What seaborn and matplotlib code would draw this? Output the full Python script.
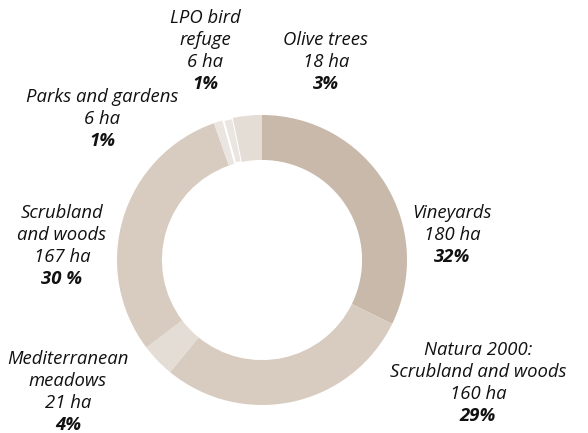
import matplotlib.pyplot as plt
import seaborn as sns

# land use data (ha)
labels = ["Vineyards", "Natura 2000:\nScrubland and woods", "Mediterranean\nmeadows",
          "Scrubland\nand woods", "Parks and gardens", "LPO bird\nrefuge", "Olive trees"]
hectares = [180, 160, 21, 167, 6, 6, 18]
percents = ["32%", "29%", "4%", "30 %", "1%", "1%", "3%"]
colors = ["#C9B9AB", "#D8CCC0", "#E4DDD6", "#D8CCC0", "#EAE5E0", "#EAE5E0", "#E4DDD6"]

# label centre positions in pixels (x, y of first line from top)
label_pos = [(452, 213), (478, 350), (68, 359), (62, 213), (102, 97), (205, 18), (326, 40)]

sns.set_theme(style="white")
plt.rcParams['font.family'] = ['Open Sans', 'DejaVu Sans']

W, H = 588, 433
fig = plt.figure(figsize=(W / 100, H / 100), dpi=100)
cx, cy, r = 262, 260, 145
ax = fig.add_axes([(cx - r) / W, (H - cy - r) / H, 2 * r / W, 2 * r / H])
wedges, _ = ax.pie(hectares, colors=colors, startangle=90, counterclock=False, radius=1,
                   wedgeprops=dict(width=0.31, edgecolor="white", linewidth=0))
# thin white gaps around the LPO refuge slice only
wedges[5].set_linewidth(1.5)
ax.set_xlim(-1, 1)
ax.set_ylim(-1, 1)
ax.set_aspect("equal")
ax.axis("off")

step = 22
for lab, ha_val, pct, (x, y) in zip(labels, hectares, percents, label_pos):
    lines = lab.split("\n") + [f"{ha_val} ha"]
    for i, line in enumerate(lines):
        fig.text(x / W, 1 - (y + i * step) / H, line, ha="center", va="center",
                 fontsize=13.3, style="italic", color="#111111")
    fig.text(x / W, 1 - (y + len(lines) * step) / H, pct, ha="center", va="center",
             fontsize=13.3, style="italic", fontweight="bold", color="#111111")

fig.savefig("out.png", dpi=100)
